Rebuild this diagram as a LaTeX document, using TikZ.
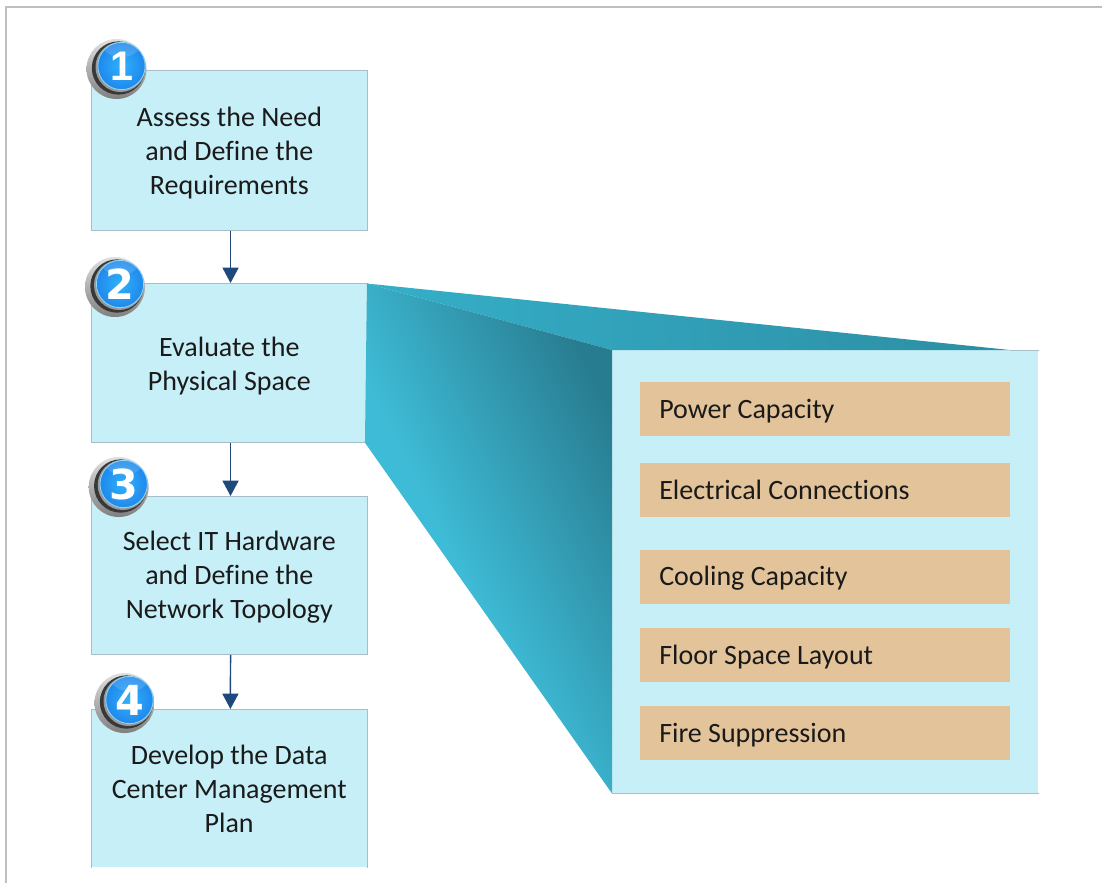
\documentclass[tikz,border=0pt]{standalone}
\usepackage{fontspec}
\setmainfont[Ligatures=NoCommon]{Carlito}
\newfontfamily\numfont{DejaVu Sans}
\newfontfamily\onefont{Liberation Sans}
\usetikzlibrary{arrows.meta,calc}
\definecolor{boxfill}{HTML}{C7EFF7}
\definecolor{boxedge}{HTML}{A9BDC6}
\definecolor{itemfill}{HTML}{E2C39A}
\definecolor{arrowblue}{HTML}{1F497D}
\definecolor{pageedge}{HTML}{BFBFBF}
\definecolor{ink}{HTML}{1A1A1A}
\definecolor{faceLight}{HTML}{3EBBD6}
\definecolor{faceDark}{HTML}{287C90}
\definecolor{topLight}{HTML}{35AEC8}
\definecolor{topDark}{HTML}{2C8FA4}
\definecolor{ballIn}{HTML}{2FB2FA}
\definecolor{ballOut}{HTML}{2088EC}
\pgfdeclareverticalshading{facegrad}{100bp}{color(0bp)=(faceLight); color(44bp)=(faceLight); color(75bp)=(faceDark); color(100bp)=(faceDark)}
\tikzset{
  stepfill/.style={anchor=north west,fill=boxfill,inner sep=0pt,minimum width=206.6pt,minimum height=#1,align=center,text=ink,font=\fontsize{21}{25.5}\selectfont},
  stepbox/.style={stepfill=#1,draw=boxedge,line width=.6pt},
  itembox/.style={anchor=north west,fill=itemfill,inner sep=0pt,minimum width=277.5pt,minimum height=#1},
  itemlabel/.style={anchor=west,inner sep=0pt,text=ink,font=\fontsize{21}{25.5}\selectfont},
  flow/.style={draw=arrowblue,line width=1.1pt,-{Triangle[length=11.5pt,width=12pt,fill=arrowblue]}},
}
\newcommand{\stepbadge}[4]{%
  % #1 name, #2 x, #3 y, #4 number
  \node[circle,minimum size=45pt,inner sep=0pt,shade,top color=black!12,middle color=black!68,bottom color=black!50] (#1ring) at (#2-5,#3+3) {};
  \node[circle,minimum size=40pt,inner sep=0pt,fill=black!78] (#1band) at (#2-3,#3+2) {};
  \node[circle,minimum size=37.5pt,inner sep=0pt,fill=black!40] (#1rim) at (#2-1,#3+1) {};
  \node[circle,inner sep=0pt,minimum size=35.5pt,draw=white!55!cyan,line width=.6pt,
        shade,inner color=ballIn,outer color=ballOut,
        path picture={\fill[white,opacity=.14] ($(path picture bounding box.north)+(0,-2pt)$) ellipse (14pt and 9pt);},
        text=white,font=\numfont\bfseries\fontsize{31}{31}\selectfont] (#1) at (#2,#3) {#4};
}
\begin{document}
\begin{tikzpicture}[x=0.75pt,y=-0.75pt]
\useasboundingbox (0,0) rectangle (1102,883);
\fill[white] (0,0) rectangle (1102,883);
\coordinate (pagetl) at (6,7);
\coordinate (pagetr) at (1102,7);
\coordinate (pagebl) at (6,883);
\draw[pageedge,line width=1.1pt] (pagebl) -- (pagetl) -- (pagetr);

% steps
\node[stepbox=120pt] (s1) at (91.2,70) {\rule{0pt}{19pt}Assess the Need\\and Define the\\Requirements};
\node[stepbox=119.2pt] (s2) at (91.2,283) {\rule{0pt}{19pt}Evaluate the\\Physical Space};
\node[stepbox=118.5pt] (s3) at (91.2,496) {\rule{0pt}{17.5pt}Select IT Hardware\\and Define the\\Network Topology};
\node[stepfill=118.5pt] (s4) at (91.2,709) {\rule{0pt}{16pt}Develop the Data\\Center Management\\Plan};
\draw[boxedge,line width=.6pt] (s4.south west) -- (s4.north west) -- (s4.north east) -- (s4.south east);

% connectors
\draw[flow] ([xshift=.9pt]s1.south) -- ([xshift=.9pt]s2.north);
\draw[flow] ([xshift=.9pt]s2.south) -- ([xshift=.9pt]s3.north);
\draw[flow] ([xshift=.9pt]s3.south) -- ([xshift=.9pt]s4.north);

% panel
\node[anchor=north west,fill=boxfill,inner sep=0pt,minimum width=319.5pt,minimum height=332.2pt] (panel) at (612,350) {};
\coordinate (tip) at (1010,350);
\coordinate (ftl) at ($(s2.north east)+(-0.5,0.5)$);
\coordinate (fbl) at ($(s2.south east)+(-2.5,0)$);
\shade[left color=topLight,right color=topDark,shading angle=95]
  (ftl) -- (tip) -- (panel.north west) -- cycle;
\shade[shading=facegrad,shading angle=-64]
  (ftl) -- (panel.north west) -- (panel.south west) -- (fbl) -- cycle;
\draw[boxedge,line width=.6pt] (tip) -- (panel.north east);
\draw[boxedge,line width=.6pt] (panel.south west) -- (panel.south east);

% items
\node[itembox=40.5pt] (i1) at (640,382) {};
\node[itembox=40.5pt] (i2) at (640,463) {};
\node[itembox=40.5pt] (i3) at (640,550) {};
\node[itembox=40pt] (i4) at (640,628) {};
\node[itembox=40pt] (i5) at (640,706) {};
\node[itemlabel] (l1) at ($(i1.west)+(19,2)$) {Power Capacity};
\node[itemlabel] (l2) at ($(i2.west)+(19,0)$) {Electrical Connections};
\node[itemlabel] (l3) at ($(i3.west)+(19,1)$) {Cooling Capacity};
\node[itemlabel] (l4) at ($(i4.west)+(19,2)$) {Floor Space Layout};
\node[itemlabel] (l5) at ($(i5.west)+(19,2)$) {Fire Suppression};

% badges
\stepbadge{b1}{121.5}{66}{\onefont 1}
\stepbadge{b2}{120}{284}{2}
\stepbadge{b3}{123.7}{484}{3}
\stepbadge{b4}{129.5}{700}{4}
\end{tikzpicture}
\end{document}
